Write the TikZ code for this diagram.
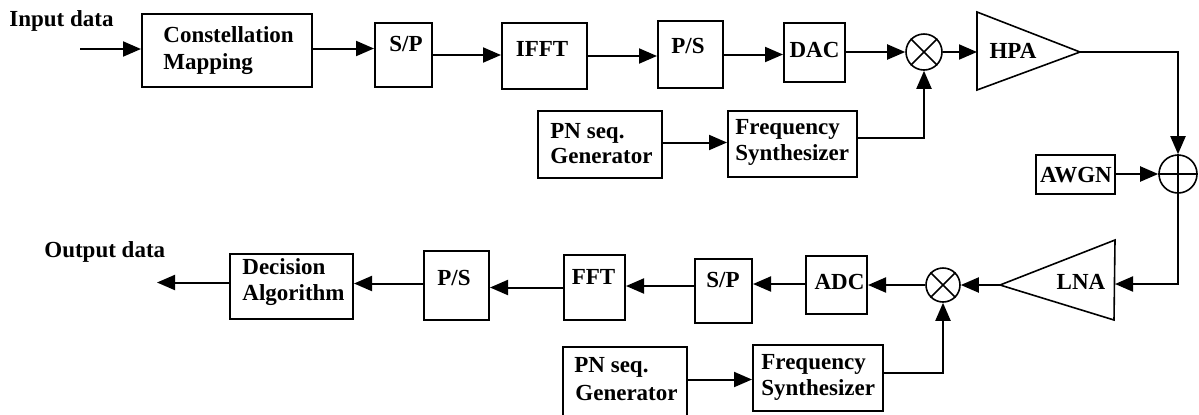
\documentclass[tikz,border=0pt]{standalone}
\usepackage{fontspec}
\setmainfont{Liberation Serif}
\usetikzlibrary{arrows.meta,calc}
\begin{document}
\begin{tikzpicture}[x=0.5pt,y=-0.5pt,
  blk/.style 2 args={draw,line width=1pt,minimum width=#1*0.5pt,minimum height=#2*0.5pt,inner sep=0pt},
  txt/.style={font=\fontsize{11.5}{13}\selectfont\bfseries,inner sep=0pt},
  arr/.style={line width=1pt,-{Triangle[length=9pt,width=7.5pt]}},
  mixc/.style={circle,draw,line width=0.8pt,minimum size=#1*0.5pt,inner sep=0pt},
  thin/.style={line width=0.8pt},
  amp/.style={draw,line width=0.8pt,line join=miter}]
\useasboundingbox (0,0) rectangle (1199,414);
% top row
\node[blk={170}{73}] (cm) at (227,50.5) {};
\node[blk={57}{64}] (sp1) at (403.5,55) {};
\node[blk={85}{66}] (ifft) at (544.5,56) {};
\node[blk={65}{67}] (ps1) at (690.5,54.5) {};
\node[blk={61}{59}] (dac) at (814.5,52) {};
\node[mixc=36] (mix1) at (924,52) {};
\node[blk={124}{67}] (pn1) at (600,144.5) {};
\node[blk={129}{66}] (fs1) at (792.5,144) {};
\node[blk={79}{39}] (awgn) at (1075.5,174) {};
\node[mixc=38] (add) at (1178,174) {};
% bottom row
\node[mixc=34] (mix2) at (943,285) {};
\node[blk={61}{58}] (adc) at (836.5,285) {};
\node[blk={57}{64}] (sp2) at (723.5,291) {};
\node[blk={61}{65}] (fft) at (594.5,287.5) {};
\node[blk={65}{69}] (ps2) at (456.5,285.5) {};
\node[blk={123}{65}] (dec) at (291.5,286.5) {};
\node[blk={124}{71}] (pn2) at (625,382.5) {};
\node[blk={130}{66}] (fs2) at (818,378) {};
% coordinates
\coordinate (in) at (80,49);
\coordinate (out) at (157,283);
\coordinate (hpaL) at (977,52);
\coordinate (hpaA) at (1080,52);
\coordinate (lnaA) at (1000,285);
\coordinate (lnaR) at (1115,284);
% amplifiers
\draw[amp] (977,12) -- (hpaA) -- (977,90) -- cycle;
\draw[amp] (1115,240) -- (1114,320) -- (lnaA) -- cycle;
% mixer / adder symbols
\draw[thin] (mix1.north east) -- (mix1.south west) (mix1.north west) -- (mix1.south east);
\draw[thin] (mix2.north east) -- (mix2.south west) (mix2.north west) -- (mix2.south east);
\draw[thin] (add.north) -- (add.south) (add.west) -- (add.east);
% connectors top
\draw[arr] (in) -- (in -| cm.west);
\draw[arr] ($(cm.east)+(0,-2)$) -- ($(cm.east -| sp1.west)+(0,-2)$);
\draw[arr] (sp1.east) -- (sp1.east -| ifft.west);
\draw[arr] (ifft.east) -- (ifft.east -| ps1.west);
\draw[arr] (ps1.east) -- (ps1.east -| dac.west);
\draw[arr] (dac.east) -- (mix1.west);
\draw[arr] (mix1.east) -- (hpaL);
\draw[arr] (hpaA) -| (add.north);
\draw[arr] ($(pn1.east)+(0,-2)$) -- ($(pn1.east -| fs1.west)+(0,-2)$);
\draw[arr] ($(fs1.east)+(0,-6)$) -| (mix1.south);
\draw[arr] (awgn.east) -- (add.west);
% connectors bottom
\draw[arr] (add.south) |- (lnaR);
\draw[arr] (lnaA) -- (mix2.east);
\draw[arr] (mix2.west) -- (adc.east);
\draw[arr] ($(adc.west)+(0,-1)$) -- ($(adc.west -| sp2.east)+(0,-1)$);
\draw[arr] ($(sp2.west)+(0,-5)$) -- ($(sp2.west -| fft.east)+(0,-5)$);
\draw[arr] (fft.west) -- (fft.west -| ps2.east);
\draw[arr] ($(ps2.west)+(0,-2)$) -- ($(ps2.west -| dec.east)+(0,-2)$);
\draw[arr] ($(dec.west)+(0,-4)$) -- ($(dec.west -| out)+(0,-4)$);
\draw[arr] ($(pn2.east)+(0,-3)$) -- ($(pn2.east -| fs2.west)+(0,-3)$);
\draw[arr] ($(fs2.east)+(0,-5)$) -| (mix2.south);
% texts
\node[txt,anchor=base west] (inT) at (9,26.5) {Input data};
\node[txt,anchor=base west] (cmT1) at (163,42) {Constellation};
\node[txt,anchor=base west] (cmT2) at (163,69) {Mapping};
\node[txt,anchor=base] (sp1T) at (406,51) {S/P};
\node[txt,anchor=base] (ifftT) at (542,56) {IFFT};
\node[txt,anchor=base] (ps1T) at (688,53) {P/S};
\node[txt,anchor=base] (dacT) at (814.5,57) {DAC};
\node[txt,anchor=base] (hpaT) at (1013,58) {HPA};
\node[txt,anchor=base west] (pn1T1) at (550,138) {PN seq.};
\node[txt,anchor=base west] (pn1T2) at (550,163) {Generator};
\node[txt,anchor=base west] (fs1T1) at (735,134) {Frequency};
\node[txt,anchor=base west] (fs1T2) at (735,160) {Synthesizer};
\node[txt,anchor=base] (awgnT) at (1076,182) {AWGN};
\node[txt,anchor=base] (lnaT) at (1081,289) {LNA};
\node[txt,anchor=base] (adcT) at (839.5,289) {ADC};
\node[txt,anchor=base] (sp2T) at (723,287) {S/P};
\node[txt,anchor=base] (fftT) at (593.5,284) {FFT};
\node[txt,anchor=base] (ps2T) at (454,285) {P/S};
\node[txt,anchor=base west] (decT1) at (242,274) {Decision};
\node[txt,anchor=base west] (decT2) at (242,300) {Algorithm};
\node[txt,anchor=base west] (outT) at (44,257) {Output data};
\node[txt,anchor=base west] (pn2T1) at (574,372) {PN seq.};
\node[txt,anchor=base west] (pn2T2) at (575,400) {Generator};
\node[txt,anchor=base west] (fs2T1) at (761,369) {Frequency};
\node[txt,anchor=base west] (fs2T2) at (761,395) {Synthesizer};
\end{tikzpicture}
\end{document}
